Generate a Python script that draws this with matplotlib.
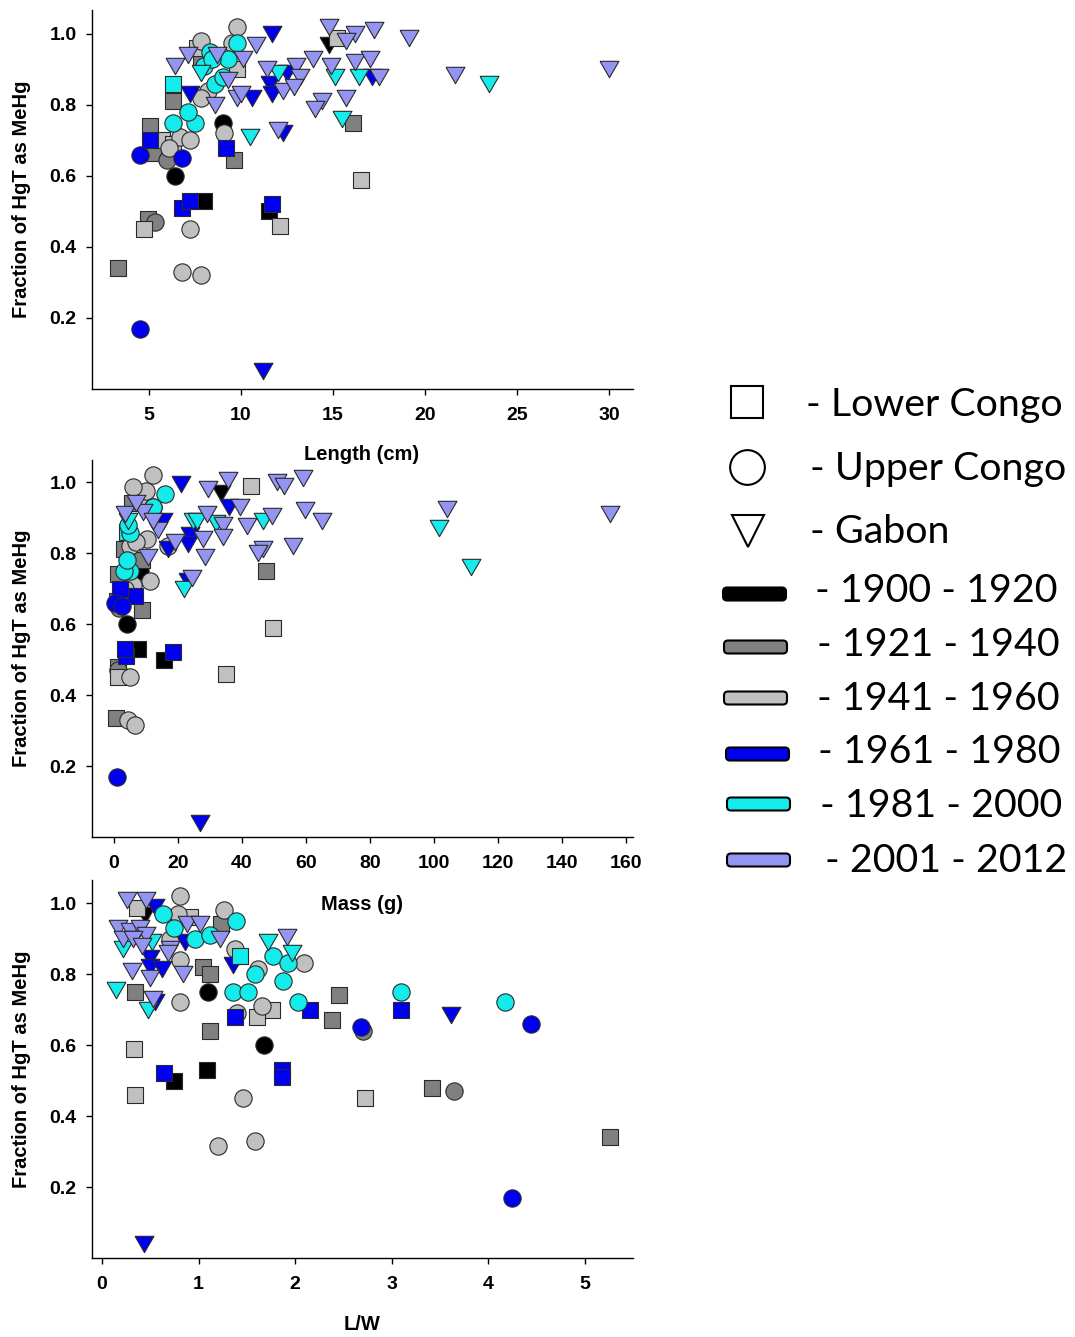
import matplotlib
matplotlib.use("Agg")
import matplotlib.pyplot as plt
from matplotlib.patches import FancyBboxPatch

# ---------------- data ----------------
PERIODS = [1900, 1921, 1941, 1961, 1981, 2001]
PERIOD_LABELS = ["1900 - 1920", "1921 - 1940", "1941 - 1960",
                 "1961 - 1980", "1981 - 2000", "2001 - 2012"]
REGIONS = ["Lower Congo", "Upper Congo", "Gabon"]

# Panel 1: Length (cm)
len_lc_x = [3.3, 4.7, 4.95, 6.8, 7.2, 8.0, 11.5, 11.7, 12.1, 16.5, 16.1, 9.6, 9.2, 5.05, 5.05, 5.7, 5.2, 6.3, 6.3, 6.3, 7.6, 7.8, 9.8, 15.2]
len_lc_y = [0.34, 0.45, 0.48, 0.51, 0.53, 0.53, 0.50, 0.52, 0.46, 0.59, 0.75, 0.645, 0.68, 0.74, 0.70, 0.70, 0.665, 0.69, 0.86, 0.81, 0.96, 0.93, 0.90, 0.99]
len_lc_p = [1921, 1941, 1921, 1961, 1961, 1900, 1900, 1961, 1941, 1941, 1921, 1921, 1961, 1921, 1961, 1941, 1921, 1941, 1981, 1921, 1941, 1921, 1941, 1941]

len_uc_x = [4.5, 6.8, 7.8, 5.3, 7.2, 6.4, 4.5, 6.8, 6.0, 9.1, 9.0, 6.7, 7.2, 6.1, 6.3, 7.5, 7.1, 8.2, 7.8, 8.6, 8.0, 8.3, 9.3, 9.8, 9.5, 7.8, 9.8, 9.0, 8.4]
len_uc_y = [0.17, 0.33, 0.32, 0.47, 0.45, 0.60, 0.66, 0.65, 0.645, 0.72, 0.75, 0.71, 0.70, 0.68, 0.75, 0.75, 0.78, 0.84, 0.82, 0.86, 0.91, 0.95, 0.93, 0.975, 0.975, 0.98, 1.02, 0.88, 0.93]
len_uc_p = [1961, 1941, 1941, 1921, 1941, 1900, 1961, 1961, 1921, 1941, 1900, 1941, 1941, 1941, 1981, 1981, 1981, 1941, 1941, 1981, 1981, 1981, 1981, 1981, 1941, 1941, 1941, 1981, 1981]

len_ga_x = [11.2, 11.7, 7.2, 6.4, 7.1, 8.7, 10.1, 10.8, 9.3, 8.6, 7.8, 9.8, 10.6, 11.4, 12.0, 11.6, 11.7, 12.3, 10.5, 12.0, 12.3, 14.8, 14.8, 16.2, 17.2, 15.7, 19.1, 13.9, 13.0, 14.9, 16.2, 17.0, 17.5, 13.2, 12.9, 15.1, 16.4, 17.1, 12.5, 14.4, 14.0, 15.7, 15.5, 21.6, 23.5, 30.0, 10.0]
len_ga_y = [0.05, 1.0, 0.83, 0.91, 0.94, 0.94, 0.93, 0.97, 0.87, 0.80, 0.89, 0.82, 0.82, 0.90, 0.89, 0.86, 0.83, 0.84, 0.71, 0.73, 0.72, 1.02, 0.97, 1.0, 1.01, 0.98, 0.99, 0.93, 0.91, 0.91, 0.92, 0.93, 0.88, 0.88, 0.85, 0.88, 0.88, 0.88, 0.89, 0.81, 0.79, 0.82, 0.76, 0.885, 0.86, 0.90, 0.83]
len_ga_p = [1961, 1961, 1961, 2001, 2001, 2001, 2001, 2001, 2001, 2001, 1981, 2001, 1961, 2001, 1981, 1961, 1961, 2001, 1981, 2001, 1961, 2001, 1900, 2001, 2001, 2001, 2001, 2001, 2001, 2001, 2001, 2001, 2001, 2001, 2001, 1981, 1981, 1961, 1961, 2001, 2001, 2001, 1981, 2001, 1981, 2001, 2001]

# Panel 2: Mass (g)
mass_lc_x = [0.6, 1.3, 1.3, 3.7, 3.5, 7.5, 15.6, 18.5, 35.0, 49.7, 47.5, 8.8, 6.6, 1.3, 1.8, 3.0, 1.0, 2.5, 4.0, 3.0, 8.6, 5.5, 8.7, 42.8]
mass_lc_y = [0.335, 0.45, 0.48, 0.51, 0.53, 0.53, 0.50, 0.52, 0.46, 0.59, 0.75, 0.64, 0.68, 0.74, 0.70, 0.70, 0.665, 0.69, 0.86, 0.81, 0.96, 0.94, 0.78, 0.99]
mass_lc_p = [1921, 1941, 1921, 1961, 1961, 1900, 1900, 1961, 1941, 1941, 1921, 1921, 1961, 1921, 1961, 1941, 1921, 1941, 1981, 1921, 1941, 1921, 1921, 1941]

mass_uc_x = [1.0, 4.4, 6.5, 1.2, 5.0, 4.0, 0.3, 2.4, 1.5, 11.3, 8.1, 6.0, 3.5, 2.0, 5.0, 3.0, 4.0, 10.2, 5.0, 5.0, 12.3, 16.0, 12.3, 10.0, 6.0, 4.5, 12.2, 17.0, 7.0]
mass_uc_y = [0.17, 0.33, 0.315, 0.47, 0.45, 0.60, 0.66, 0.65, 0.645, 0.72, 0.75, 0.71, 0.70, 0.68, 0.75, 0.75, 0.78, 0.84, 0.82, 0.855, 0.93, 0.965, 0.93, 0.975, 0.985, 0.88, 1.02, 0.82, 0.83]
mass_uc_p = [1961, 1941, 1941, 1921, 1941, 1900, 1961, 1961, 1921, 1941, 1900, 1941, 1941, 1941, 1981, 1981, 1981, 1941, 1941, 1981, 1981, 1981, 1981, 1941, 1941, 1981, 1941, 1941, 1941]

mass_ga_x = [27, 21, 35.6, 33.4, 29.4, 51, 53, 59, 35.9, 39.4, 49.4, 59.7, 65, 56, 46.6, 41.5, 34, 32, 46.6, 34, 104, 101.6, 111.6, 155, 22, 24.3, 23, 3.5, 9, 13.8, 12.3, 4.5, 15.4, 10.7, 17, 24.8, 29, 23.7, 23, 27.8, 28.4, 26, 45, 7, 19]
mass_ga_y = [0.04, 0.995, 1.005, 0.97, 0.98, 1.0, 0.99, 1.01, 0.93, 0.93, 0.905, 0.92, 0.89, 0.82, 0.81, 0.875, 0.88, 0.885, 0.89, 0.845, 0.925, 0.87, 0.76, 0.91, 0.70, 0.73, 0.72, 0.91, 0.915, 0.865, 0.89, 0.89, 0.89, 0.79, 0.81, 0.89, 0.91, 0.85, 0.825, 0.84, 0.79, 0.89, 0.80, 0.94, 0.83]
mass_ga_p = [1961, 1961, 2001, 1900, 2001, 2001, 2001, 2001, 1961, 2001, 2001, 2001, 2001, 2001, 2001, 2001, 2001, 1981, 1981, 2001, 2001, 1981, 1981, 2001, 1981, 2001, 1961, 2001, 2001, 2001, 2001, 1981, 1961, 2001, 1961, 1981, 2001, 1961, 1961, 2001, 2001, 1981, 2001, 2001, 2001]

# Panel 3: L/W
lw_lc_x = [5.26, 2.72, 3.42, 0.64, 0.745, 1.09, 1.86, 1.86, 0.34, 0.33, 2.45, 2.38, 3.1, 2.15, 1.76, 1.6, 1.38, 1.12, 0.34, 1.05, 1.12, 1.43, 1.23, 0.36, 0.91]
lw_lc_y = [0.34, 0.45, 0.48, 0.52, 0.50, 0.53, 0.53, 0.51, 0.46, 0.59, 0.74, 0.67, 0.70, 0.70, 0.70, 0.68, 0.68, 0.64, 0.75, 0.82, 0.80, 0.85, 0.94, 0.985, 0.96]
lw_lc_p = [1921, 1941, 1921, 1961, 1900, 1900, 1961, 1961, 1941, 1941, 1921, 1921, 1961, 1961, 1941, 1941, 1961, 1921, 1921, 1921, 1921, 1981, 1921, 1941, 1941]

lw_uc_x = [4.24, 1.2, 1.58, 1.46, 3.64, 1.68, 2.68, 2.7, 4.44, 3.1, 4.17, 1.1, 1.36, 1.51, 0.81, 1.66, 1.4, 2.03, 1.87, 1.61, 1.58, 1.77, 1.93, 2.09, 1.38, 0.81, 0.63, 0.81, 0.79, 0.75, 0.96, 0.7, 1.26, 1.39, 1.12]
lw_uc_y = [0.17, 0.315, 0.33, 0.45, 0.47, 0.60, 0.65, 0.64, 0.66, 0.75, 0.72, 0.75, 0.75, 0.75, 0.72, 0.71, 0.69, 0.72, 0.78, 0.815, 0.80, 0.85, 0.83, 0.83, 0.87, 0.84, 0.97, 1.02, 0.97, 0.93, 0.90, 0.90, 0.98, 0.95, 0.91]
lw_uc_p = [1961, 1941, 1941, 1941, 1921, 1900, 1961, 1921, 1961, 1981, 1981, 1900, 1981, 1981, 1941, 1941, 1941, 1981, 1981, 1941, 1981, 1981, 1981, 1941, 1941, 1941, 1981, 1941, 1941, 1981, 1981, 1941, 1941, 1981, 1981]

lw_ga_x = [0.43, 3.61, 0.26, 0.46, 0.55, 0.88, 1.01, 1.22, 0.86, 0.7, 0.17, 0.29, 0.39, 0.46, 0.22, 0.32, 0.41, 0.68, 0.22, 0.52, 0.5, 0.5, 0.62, 0.31, 0.5, 0.84, 0.145, 0.53, 0.55, 0.48, 1.36, 1.72, 1.91, 1.97, 0.45]
lw_ga_y = [0.04, 0.685, 1.01, 1.01, 0.99, 0.94, 0.94, 0.90, 0.89, 0.87, 0.93, 0.92, 0.93, 0.91, 0.90, 0.90, 0.88, 0.86, 0.87, 0.89, 0.845, 0.82, 0.815, 0.81, 0.79, 0.80, 0.755, 0.73, 0.72, 0.70, 0.825, 0.89, 0.905, 0.86, 0.965]
lw_ga_p = [1961, 1961, 2001, 2001, 1961, 2001, 2001, 2001, 1961, 2001, 2001, 2001, 2001, 2001, 2001, 2001, 2001, 2001, 1981, 1981, 1961, 1961, 1961, 2001, 2001, 2001, 1981, 2001, 1961, 1981, 1961, 1981, 2001, 1981, 1900]

# ---------------- style ----------------
W, H = 1075, 1337
COLORS = {1900: "#000000", 1921: "#808080", 1941: "#c0c0c0",
          1961: "#0000f0", 1981: "#14ecec", 2001: "#9494f2"}
TRI = [(-1.0, 0.866), (1.0, 0.866), (0.0, -0.866), (-1.0, 0.866)]
MARKERS = {"Lower Congo": ("s", 130), "Upper Congo": ("o", 155), "Gabon": (TRI, 185)}
TICKFONT = dict(family="Liberation Sans", weight="bold", size=14)
LABELFONT = dict(family="Liberation Sans", weight="bold", size=14.5)

fig = plt.figure(figsize=(W / 100, H / 100), dpi=100)


def px_rect(left, top, right, bottom):
    return [left / W, 1 - bottom / H, (right - left) / W, (bottom - top) / H]


panels = [
    dict(rect=px_rect(92, 10, 633, 389), xlim=(1.9, 31.3), ylim=(0, 1.0676),
         xticks=[5, 10, 15, 20, 25, 30], xlabel="Length (cm)", xlabel_pos=(362, 454),
         data={"Lower Congo": (len_lc_x, len_lc_y, len_lc_p),
               "Upper Congo": (len_uc_x, len_uc_y, len_uc_p),
               "Gabon": (len_ga_x, len_ga_y, len_ga_p)}),
    dict(rect=px_rect(92, 460, 633, 837), xlim=(-6.9, 162.2), ylim=(0, 1.062),
         xticks=list(range(0, 161, 20)), xlabel="Mass (g)", xlabel_pos=(362, 904),
         data={"Lower Congo": (mass_lc_x, mass_lc_y, mass_lc_p),
               "Upper Congo": (mass_uc_x, mass_uc_y, mass_uc_p),
               "Gabon": (mass_ga_x, mass_ga_y, mass_ga_p)}),
    dict(rect=px_rect(92, 880, 633, 1258), xlim=(-0.1035, 5.497), ylim=(0, 1.065),
         xticks=[0, 1, 2, 3, 4, 5], xlabel="L/W", xlabel_pos=(362, 1324),
         data={"Lower Congo": (lw_lc_x, lw_lc_y, lw_lc_p),
               "Upper Congo": (lw_uc_x, lw_uc_y, lw_uc_p),
               "Gabon": (lw_ga_x, lw_ga_y, lw_ga_p)}),
]

for pnl in panels:
    ax = fig.add_axes(pnl["rect"])
    for period in PERIODS:
        for region in REGIONS:
            xs, ys, ps = pnl["data"][region]
            sx = [x for x, p in zip(xs, ps) if p == period]
            sy = [y for y, p in zip(ys, ps) if p == period]
            if not sx:
                continue
            mk, size = MARKERS[region]
            ax.scatter(sx, sy, marker=mk, s=size, c=COLORS[period],
                       edgecolors="#2a2a2a", linewidths=0.8, zorder=3)
    ax.set_xlim(*pnl["xlim"])
    ax.set_ylim(*pnl["ylim"])
    ax.set_xticks(pnl["xticks"])
    ax.set_xticklabels([str(t) for t in pnl["xticks"]], fontdict=TICKFONT)
    yt = [0.2, 0.4, 0.6, 0.8, 1.0]
    ax.set_yticks(yt)
    ax.set_yticklabels([f"{t:.1f}" for t in yt], fontdict=TICKFONT)
    for s in ("top", "right"):
        ax.spines[s].set_visible(False)
    for s in ("left", "bottom"):
        ax.spines[s].set_linewidth(1.0)
    ax.tick_params(axis="x", direction="out", length=4, width=1.0, pad=9)
    ax.tick_params(axis="y", direction="out", length=4, width=1.0, pad=7)
    cx, cy = pnl["xlabel_pos"]
    fig.text(cx / W, 1 - cy / H, pnl["xlabel"], ha="center", va="center", **LABELFONT)
    top = (1 - pnl["rect"][1] - pnl["rect"][3]) * H
    bot = (1 - pnl["rect"][1]) * H
    fig.text(22 / W, 1 - (top + bot) / 2 / H, "Fraction of HgT as MeHg",
             rotation=90, ha="center", va="center", **LABELFONT)

# ---------------- legend (drawn in pixel space) ----------------
lax = fig.add_axes([0, 0, 1, 1])
lax.set_xlim(0, W)
lax.set_ylim(H, 0)
lax.axis("off")

lax.plot([747], [402], marker="s", ms=23, mfc="white", mec="black", mew=1.5, ls="none")
lax.plot([747], [467], marker="o", ms=25, mfc="white", mec="black", mew=1.5, ls="none")
lax.plot([748], [531], marker="v", ms=23, mfc="white", mec="black", mew=1.5, ls="none")

bar_centers = [594, 647, 698, 754, 804, 860]
bar_left = [723, 724, 724, 726, 727, 727]
for period, yc, xl in zip(PERIODS, bar_centers, bar_left):
    lax.add_patch(FancyBboxPatch((xl, yc - 6.5), 63, 13,
                                 boxstyle="round,pad=0,rounding_size=4",
                                 fc=COLORS[period], ec="black", lw=1.5))

LEG_FONT = "Lato"
probe = lax.text(0, 0, "- Lower Congo", fontsize=28, family=LEG_FONT)
fig.canvas.draw()
wpx = probe.get_window_extent(renderer=fig.canvas.get_renderer()).width
probe.remove()
leg_size = 28 * 257 / wpx

region_text = [(806, 416), (810, 480), (810, 543)]
for name, (x, y) in zip(REGIONS, region_text):
    lax.text(x, y, "- " + name, fontsize=leg_size, family=LEG_FONT, va="baseline", ha="left")
period_text = [(815, 602), (817, 656), (817, 710), (818, 763), (820, 817), (825, 872)]
for lab, (x, y) in zip(PERIOD_LABELS, period_text):
    lax.text(x, y, "- " + lab, fontsize=leg_size, family=LEG_FONT, va="baseline", ha="left")

fig.savefig("out.png", dpi=100)
